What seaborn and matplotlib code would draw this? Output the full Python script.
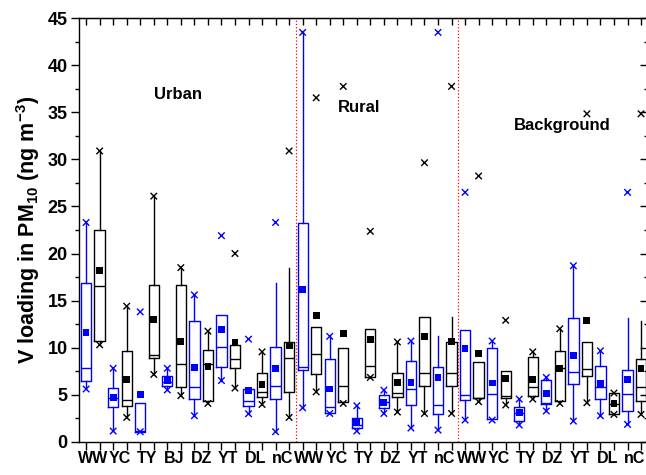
import numpy as np
import matplotlib.pyplot as plt
import matplotlib.ticker as mticker
import pandas as pd
import seaborn as sns

# site labels (one label per pair of boxes)
sites = ["WW", "YC", "TY", "BJ", "DZ", "YT", "DL", "nC",
         "WW", "YC", "TY", "DZ", "YT", "nC",
         "WW", "YC", "TY", "DZ", "YT", "DL", "nC"]
regions = ["Urban", "Rural", "Background"]
region_sites = [8, 6, 7]
pair_names = ["set1", "set2"]   # blue box, black box for every site

# box statistics (ng m-3), 42 boxes left to right
whis_lo = [5.6, 10.3, 1.13, 2.58, 1.06, 7.15, 5.5, 4.9, 2.76, 4.07, 6.5, 5.7, 2.97, 3.96, 1.06, 2.58,
           3.6, 5.3, 3.0, 4.07, 1.13, 6.83, 3.0, 3.15, 1.45, 3.0, 1.24, 3.0,
           2.3, 4.25, 2.3, 3.9, 1.77, 4.53, 3.26, 4.07, 2.19, 4.14, 2.76, 2.9, 1.84, 2.9]
q1 = [6.4, 10.7, 3.64, 3.75, 1.06, 8.85, 5.9, 5.8, 4.5, 4.3, 7.96, 7.86, 3.79, 4.74, 4.53, 5.3,
      7.64, 7.18, 3.0, 4.25, 1.42, 6.83, 3.54, 4.7, 3.9, 5.94, 2.97, 5.9,
      4.42, 4.6, 2.4, 4.6, 2.19, 4.88, 3.96, 4.35, 6.09, 6.97, 4.56, 2.9, 3.26, 4.32]
median = [7.85, 16.6, 4.67, 4.39, 1.1, 9.17, 6.3, 8.24, 5.77, 8.3, 10.1, 8.78, 4.35, 5.3, 5.87, 8.85,
          7.93, 9.27, 3.64, 5.9, 1.8, 8.07, 4.2, 5.13, 5.56, 7.32, 3.9, 7.29,
          4.92, 4.67, 5.06, 4.88, 3.1, 5.77, 4.14, 7.78, 7.36, 7.71, 5.8, 4.03, 5.06, 5.77]
q3 = [16.9, 22.5, 5.66, 9.66, 4.07, 16.7, 6.97, 16.7, 12.85, 9.7, 13.5, 10.26, 5.63, 7.29, 10.1, 10.6,
      23.2, 12.2, 8.8, 9.98, 2.48, 11.96, 4.92, 7.25, 8.6, 13.3, 7.9, 10.55,
      11.85, 8.46, 9.98, 7.54, 3.72, 8.95, 6.55, 9.62, 13.16, 10.55, 8.07, 5.13, 7.6, 8.74]
whis_hi = [23.3, 30.9, 7.8, 14.4, 4.07, 26.1, 7.8, 18.5, 15.6, 11.75, 13.5, 10.26, 5.63, 9.55, 16.9, 18.5,
           43.5, 12.2, 11.2, 9.98, 3.82, 11.96, 5.48, 10.6, 10.7, 13.3, 11.25, 13.3,
           11.85, 8.46, 10.7, 7.54, 4.53, 9.55, 6.83, 12.0, 18.7, 10.55, 9.66, 5.17, 13.16, 12.85]
mean = [11.6, 18.2, 4.7, 6.6, 5.0, 13.0, 6.5, 10.65, 7.86, 7.96, 11.96, 10.55, 5.45, 6.12, 7.78, 10.26,
        16.2, 13.4, 5.6, 11.46, 2.16, 10.86, 4.2, 6.33, 6.33, 11.15, 6.86, 10.65,
        9.94, 9.38, 6.23, 6.69, 3.08, 6.65, 5.13, 7.78, 9.2, 12.88, 6.16, 4.03, 6.65, 7.78]
v_min = [5.6, 10.3, 1.13, 2.58, 1.06, 7.15, 5.5, 4.9, 2.76, 4.07, 6.5, 5.7, 2.97, 3.96, 1.06, 2.58,
         3.6, 5.3, 3.0, 4.07, 1.13, 6.83, 3.0, 3.15, 1.45, 3.0, 1.24, 3.0,
         2.3, 4.25, 2.3, 3.9, 1.77, 4.53, 3.26, 4.07, 2.19, 4.14, 2.76, 2.9, 1.84, 2.9]
v_max = [23.3, 30.9, 7.8, 14.4, 13.8, 26.1, 7.8, 18.5, 15.6, 11.75, 21.9, 20.0, 10.9, 9.55, 23.3, 30.9,
         43.5, 36.55, 11.2, 37.76, 3.82, 22.36, 5.48, 10.6, 10.7, 29.65, 43.5, 37.76,
         26.5, 28.24, 10.7, 12.9, 4.53, 9.55, 6.83, 12.0, 18.7, 34.85, 9.66, 5.17, 26.5, 34.85]

palette = {"set1": "#0000ff", "set2": "#000000"}

plt.rcParams["font.family"] = ["Liberation Sans", "DejaVu Sans"]
plt.rcParams["font.weight"] = "bold"
plt.rcParams["mathtext.fontset"] = "custom"
plt.rcParams["mathtext.rm"] = "Liberation Sans:bold"
plt.rcParams["mathtext.bf"] = "Liberation Sans:bold"
plt.rcParams["mathtext.default"] = "bf"

n = len(mean)
pos = np.arange(n)
grp = [pair_names[i % 2] for i in range(n)]

df = pd.DataFrame({"pos": pos, "grp": grp, "mean": mean, "vmin": v_min, "vmax": v_max})
ext = pd.concat([df[["pos", "grp", "vmin"]].rename(columns={"vmin": "v"}),
                 df[["pos", "grp", "vmax"]].rename(columns={"vmax": "v"})])

fig = plt.figure(figsize=(6.46, 4.75), dpi=100)
ax = fig.add_axes([0.1228, 0.0701, 0.880, 0.8914])

# boxes (summary stats only, so bxp)
for g in pair_names:
    idx = [i for i in range(n) if grp[i] == g]
    stats = [dict(whislo=whis_lo[i], q1=q1[i], med=median[i], q3=q3[i], whishi=whis_hi[i])
             for i in idx]
    c = palette[g]
    ax.bxp(stats, positions=idx, widths=0.76, showfliers=False, showcaps=False,
           boxprops=dict(color=c, lw=1.0), whiskerprops=dict(color=c, lw=1.0),
           medianprops=dict(color=c, lw=1.0), manage_ticks=False)

sns.scatterplot(data=df, x="pos", y="mean", hue="grp", palette=palette, marker="s",
                s=24, linewidth=0, legend=False, ax=ax, zorder=5)
sns.scatterplot(data=ext, x="pos", y="v", hue="grp", palette=palette, marker="x",
                s=22, linewidth=1.0, legend=False, ax=ax, zorder=5)

# region separators
bounds = np.cumsum(region_sites) * 2 - 0.5
for b in bounds[:-1]:
    ax.axvline(b, color="red", ls=":", lw=0.9)

text_pos = [(6.8, 36.9), (20.2, 35.5), (35.2, 33.6)]
for name, (tx, ty) in zip(regions, text_pos):
    ax.text(tx, ty, name, ha="center", va="center", fontsize=12, fontweight="bold")

ax.set_xlim(-0.5, n - 0.5)
ax.set_ylim(0, 45)

ax.set_xticks(np.arange(len(sites)) * 2 + 0.5)
ax.set_xticklabels(sites, fontsize=11.5, fontweight="bold")
ax.xaxis.set_minor_locator(mticker.FixedLocator(pos))
ax.tick_params(axis="x", which="major", length=0, pad=7)
ax.tick_params(axis="x", which="minor", direction="out", length=5.5, width=1.0)

ax.yaxis.set_major_locator(mticker.MultipleLocator(5))
ax.yaxis.set_minor_locator(mticker.MultipleLocator(2.5))
ax.tick_params(axis="y", which="major", direction="out", length=5.5, width=1.0,
               labelsize=13, pad=3)
ax.tick_params(axis="y", which="minor", direction="out", length=3, width=1.0)
for t in ax.get_yticklabels():
    t.set_fontweight("bold")

top = ax.secondary_xaxis("top")
top.set_xticks(pos)
top.tick_params(direction="in", length=5, width=1.0, labeltop=False)
right = ax.secondary_yaxis("right")
right.yaxis.set_major_locator(mticker.MultipleLocator(5))
right.yaxis.set_minor_locator(mticker.MultipleLocator(2.5))
right.tick_params(which="major", direction="in", length=5.5, width=1.0, labelright=False)
right.tick_params(which="minor", direction="in", length=3, width=1.0)

for s in ax.spines.values():
    s.set_linewidth(1.0)

ax.set_xlabel("")
ax.set_ylabel(r"V loading in PM$_{10}$ (ng m$^{-3}$)", fontsize=15.5, fontweight="bold", labelpad=4)

fig.savefig("out.png", dpi=100)
